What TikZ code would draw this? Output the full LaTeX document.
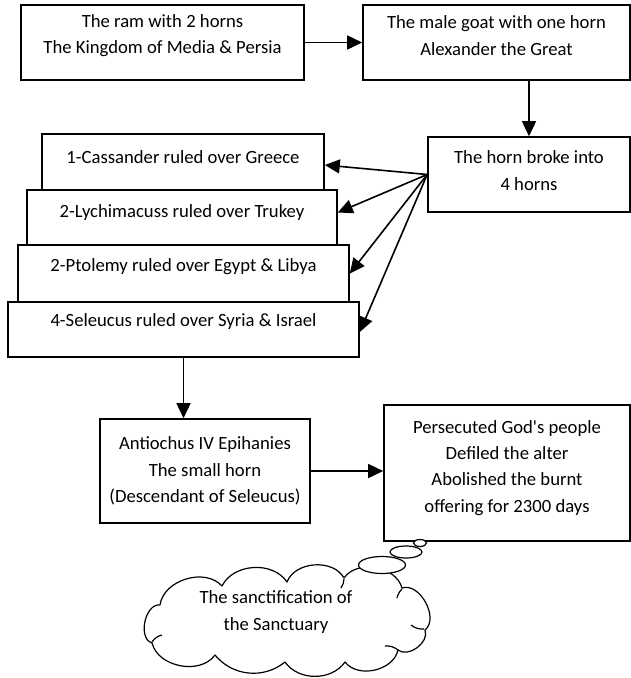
\documentclass[tikz,border=0pt]{standalone}
\usepackage{fontspec}
\setmainfont{Carlito}
\usetikzlibrary{arrows.meta,shapes.geometric}
\tikzset{
  box/.style={draw, line width=1.6pt, fill=white, inner sep=0pt},
  ltxt/.style={align=center, inner sep=0pt, font=\fontsize{18.67}{26.2}\selectfont},
  arr/.style={line width=1.6pt, -{Triangle[length=15pt,width=14pt]}},
  bubble/.style={draw, ellipse, line width=1.2pt, fill=white, inner sep=0pt},
  cloudline/.style={draw, line width=1.2pt, fill=white, line join=round}
}
\begin{document}
\begin{tikzpicture}[x=1pt,y=-1pt]
\useasboundingbox (0,0) rectangle (631,678);
% top row
\node[box, minimum width=283pt, minimum height=75pt,
  label={[ltxt, yshift=7pt]center:{The ram with 2 horns\\The Kingdom of Media \& Persia}}]
  (A) at (162.5,42.5) {};
\node[box, minimum width=267pt, minimum height=75pt,
  label={[ltxt, yshift=7pt]center:{The male goat with one horn\\Alexander the Great}}]
  (B) at (496.5,42.5) {};
\node[box, minimum width=202pt, minimum height=75pt,
  label={[ltxt, yshift=4pt]center:{The horn broke into\\4 horns}}]
  (C) at (529,174.5) {};
% stacked boxes
\node[box, minimum width=282pt, minimum height=56pt,
  label={[ltxt, yshift=5pt]center:{1-Cassander ruled over Greece}}]
  (b1) at (183,162) {};
\node[box, minimum width=310pt, minimum height=55pt,
  label={[ltxt, yshift=5pt]center:{2-Lychimacuss ruled over Trukey}}]
  (b2) at (182,217.5) {};
\node[box, minimum width=331pt, minimum height=57pt,
  label={[ltxt, yshift=7pt]center:{2-Ptolemy ruled over Egypt \& Libya}}]
  (b3) at (183.5,273.5) {};
\node[box, minimum width=351pt, minimum height=55pt,
  label={[ltxt, yshift=8pt]center:{4-Seleucus ruled over Syria \& Israel}}]
  (b4) at (183.5,329.5) {};
% lower boxes
\node[box, minimum width=210pt, minimum height=104pt,
  label={[ltxt]center:{Antiochus IV Epihanies\\The small horn\\(Descendant of Seleucus)}}]
  (D) at (205,471) {};
\node[box, minimum width=246pt, minimum height=136pt,
  label={[ltxt, yshift=5pt]center:{Persecuted God\textquotesingle s people\\Defiled the alter\\Abolished the burnt\\offering for 2300 days}}]
  (E) at (507,473) {};
% cloud outline
\path[cloudline] (160,605)
  to[bend left=65] (222,586)
  to[bend left=60] (287,582)
  to[bend left=65] (344,578)
  to[bend left=65] (402,588)
  to[bend left=80] (425,630)
  to[bend left=75] (398,650)
  to[bend left=65] (345,662)
  to[bend left=55] (285,662)
  to[bend left=45] (215,655)
  to[bend left=65] (152,643)
  to[bend left=85] cycle;
% small inner arcs of the cloud
\draw[line width=1.2pt] (344,579) to[bend left=15] (341,588);
\draw[line width=1.2pt] (402,589) to[bend right=15] (397,598);
\draw[line width=1.2pt] (424,629) to[bend left=20] (411,625);
\draw[line width=1.2pt] (398,650) to[bend right=20] (385,646);
\draw[line width=1.2pt] (152,642) to[bend left=20] (162,635);
\node[ltxt] (cloud) at (276,612) {The sanctification of\\the Sanctuary};
\node[bubble, minimum width=47pt, minimum height=17pt] (bub1) at (382,565) {};
\node[bubble, minimum width=32pt, minimum height=12pt] (bub2) at (406,552) {};
\node[bubble, minimum width=13pt, minimum height=7pt] (bub3) at (420,543) {};
% connectors
\draw[arr] (A.east) -- (B.west);
\draw[arr] (B.south -| C.north) -- (C.north);
\draw[arr] (C.west) -- ([yshift=-3pt]b1.east);
\draw[arr] (C.west) -- ([yshift=5pt]b2.east);
\draw[arr] (C.west) -- (b3.east);
\draw[arr] (C.west) -- ([yshift=-2.5pt]b4.east);
\draw[arr] (b4.south) -- (b4.south |- D.north);
\draw[arr] (D.east) -- (D.east -| E.west);
\end{tikzpicture}
\end{document}
